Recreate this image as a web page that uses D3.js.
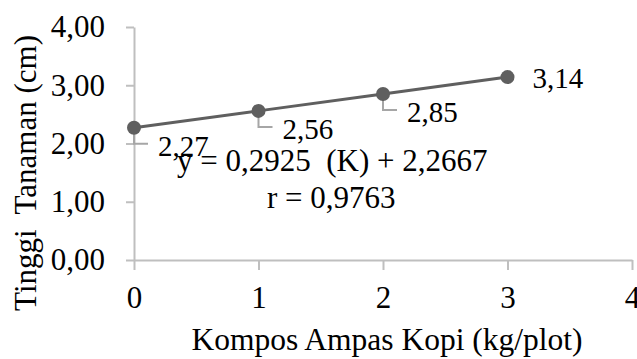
<!DOCTYPE html>
<html>
<head>
<meta charset="utf-8">
<script src="https://cdn.jsdelivr.net/npm/d3@7"></script>
<style>
  body { margin: 0; background: #fff; }
  text { font-family: "Liberation Serif", "Times New Roman", serif; fill: #000; }
</style>
</head>
<body>
<div id="chart"></div>
<script>
// data
var dosis = [0, 1, 2, 3];
var tinggi = [2.27, 2.56, 2.85, 3.14];
var labelTinggi = ["2,27", "2,56", "2,85", "3,14"];
var yTicks = [0, 1, 2, 3, 4];
var xTicks = [0, 1, 2, 3, 4];
var persamaan = "y = 0,2925  (K) + 2,2667";
var korelasi = "r = 0,9763";

var width = 637, height = 359;
var margin = {top: 27, right: 5, bottom: 99, left: 134};
var w = width - margin.left - margin.right;
var h = height - margin.top - margin.bottom;

var svg = d3.select("#chart").append("svg")
    .attr("width", width)
    .attr("height", height);

var g = svg.append("g")
    .attr("transform", "translate(" + margin.left + "," + margin.top + ")");

var x = d3.scaleLinear().domain([0, 4]).range([0, w]);
var y = d3.scaleLinear().domain([0, 4]).range([h, 0]);

var fmt = function(d) { return d3.format(".2f")(d).replace(".", ","); };

// y axis
var yAxis = g.append("g")
    .call(d3.axisLeft(y).tickValues(yTicks).tickSize(8).tickSizeOuter(0).tickFormat(fmt));
yAxis.select(".domain").attr("stroke", "#bfbfbf").attr("stroke-width", 2);
yAxis.selectAll(".tick line").attr("stroke", "#bfbfbf").attr("stroke-width", 2);
yAxis.selectAll(".tick text")
    .attr("x", -29)
    .style("font-size", "31px")
    .attr("fill", "#000");

// x axis
var xAxis = g.append("g")
    .attr("transform", "translate(0," + h + ")")
    .call(d3.axisBottom(x).tickValues(xTicks).tickSize(10).tickSizeOuter(0).tickFormat(d3.format("d")));
xAxis.select(".domain").attr("stroke", "#bfbfbf").attr("stroke-width", 2);
xAxis.selectAll(".tick line").attr("stroke", "#bfbfbf").attr("stroke-width", 2);
xAxis.selectAll(".tick text")
    .attr("y", 48)
    .attr("dy", 0)
    .style("font-size", "31px")
    .attr("fill", "#000");

// axis titles
svg.append("text")
    .attr("transform", "translate(36,173) rotate(-90)")
    .attr("text-anchor", "middle")
    .style("font-size", "31px")
    .style("white-space", "pre")
    .text("Tinggi  Tanaman (cm)");

svg.append("text")
    .attr("x", 387)
    .attr("y", 350)
    .attr("text-anchor", "middle")
    .style("font-size", "31.5px")
    .text("Kompos Ampas Kopi (kg/plot)");

var pts = dosis.map(function(d, i) { return {k: d, v: tinggi[i], lab: labelTinggi[i]}; });

// leader lines for first three labels
pts.slice(0, 3).forEach(function(p) {
  g.append("path")
      .attr("d", "M" + x(p.k) + "," + y(p.v) + " V" + (y(p.v) + 16) + " H" + (x(p.k) + 14))
      .attr("fill", "none")
      .attr("stroke", "#a6a6a6")
      .attr("stroke-width", 2);
});

// line
var line = d3.line()
    .x(function(d) { return x(d.k); })
    .y(function(d) { return y(d.v); });

g.append("path")
    .datum(pts)
    .attr("fill", "none")
    .attr("stroke", "#5f5f5f")
    .attr("stroke-width", 3)
    .attr("d", line);

g.selectAll(".dot")
    .data(pts)
    .enter().append("circle")
    .attr("cx", function(d) { return x(d.k); })
    .attr("cy", function(d) { return y(d.v); })
    .attr("r", 7)
    .attr("fill", "#5f5f5f");

// data labels
g.selectAll(".lab")
    .data(pts)
    .enter().append("text")
    .attr("x", function(d, i) { return x(d.k) + (i < 3 ? 24 : 25); })
    .attr("y", function(d, i) { return y(d.v) + (i < 3 ? 28 : 11); })
    .style("font-size", "29px")
    .text(function(d) { return d.lab; });

// regression text
g.append("text")
    .attr("x", 177 - margin.left)
    .attr("y", 171 - margin.top)
    .style("font-size", "31px")
    .style("white-space", "pre")
    .text(persamaan);

g.append("text")
    .attr("x", 267 - margin.left)
    .attr("y", 208 - margin.top)
    .style("font-size", "31px")
    .text(korelasi);
</script>
</body>
</html>
